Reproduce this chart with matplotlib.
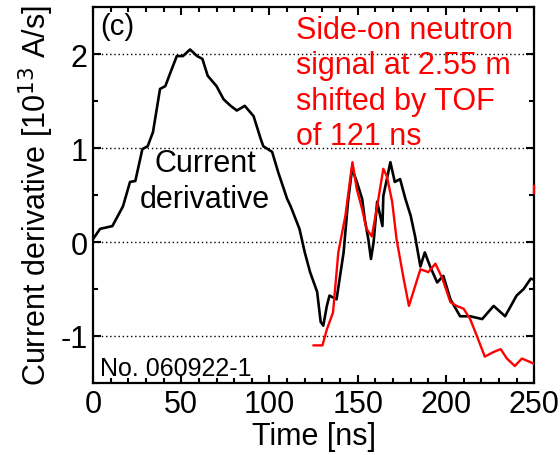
import matplotlib.pyplot as plt
from matplotlib.ticker import MultipleLocator

plt.rcParams['font.family'] = ['Liberation Sans', 'DejaVu Sans']
plt.rcParams['axes.unicode_minus'] = False

# current derivative trace, time in ns, value in 10^13 A/s
t_cur = [0, 4, 11, 17, 21, 24, 28, 31, 34, 38, 41, 44, 47.5, 51, 55, 59, 62, 65,
         70, 74, 78, 81.5, 86, 91, 95, 96.5, 101.5, 105, 110, 112, 117, 120, 123,
         127, 129, 130.5, 132.5, 134, 138, 142, 144.5, 146.8, 149.5, 152.5, 154,
         156, 157.5, 159, 161, 164, 164.5, 168.5, 171, 174, 177, 180, 182.5,
         185.5, 188, 191, 195, 198.5, 202.5, 208, 213.7, 220.5, 227, 233.5, 240,
         244, 248, 250]
v_cur = [0.03, 0.14, 0.17, 0.38, 0.64, 0.65, 0.99, 1.02, 1.17, 1.63, 1.66, 1.81,
         1.98, 1.98, 2.05, 1.98, 1.95, 1.77, 1.66, 1.52, 1.45, 1.40, 1.45, 1.34,
         1.10, 1.02, 0.96, 0.74, 0.46, 0.38, 0.14, -0.11, -0.32, -0.53, -0.85,
         -0.89, -0.68, -0.57, -0.61, -0.11, 0.43, 0.78, 0.64, 0.46, 0.24, 0.03,
         -0.18, 0.0, 0.43, 0.17, 0.49, 0.85, 0.64, 0.67, 0.46, 0.28, 0.06, -0.26,
         -0.11, -0.26, -0.43, -0.36, -0.61, -0.79, -0.79, -0.82, -0.68, -0.79,
         -0.57, -0.50, -0.39, -0.40]

# side-on neutron signal (shifted by TOF), same scale
t_neu = [125, 130, 132.5, 136, 139, 143, 147, 149.5, 152.5, 155, 158, 161, 164.5,
         166.5, 169.5, 172, 176, 179, 182.5, 185.5, 190, 194, 198, 202.5, 206,
         210, 213.7, 217.5, 222, 227, 231, 234.5, 239, 243, 248, 250]
v_neu = [-1.10, -1.10, -0.93, -0.75, -0.11, 0.28, 0.85, 0.56, 0.35, 0.14, 0.06,
         0.38, 0.78, 0.70, 0.43, 0.03, -0.39, -0.68, -0.47, -0.29, -0.32, -0.23,
         -0.39, -0.64, -0.68, -0.71, -0.82, -1.00, -1.22, -1.17, -1.14, -1.24,
         -1.32, -1.24, -1.28, -1.30]

fig = plt.figure(figsize=(5.6, 4.56), dpi=100)
ax = fig.add_axes([0.166, 0.158, 0.788, 0.824])

for g in [-1, 0, 1, 2]:
    ax.axhline(g, color='black', lw=1.0, ls=(0, (1, 2)), zorder=1)

ax.plot(t_cur, v_cur, color='black', lw=1.9, zorder=3)
ax.plot(t_neu, v_neu, color='red', lw=1.7, zorder=4)
# little red stub on the right edge
ax.plot([250, 250], [0.52, 0.6], color='red', lw=1.7, clip_on=False, zorder=5)

ax.set_xlim(0, 250)
ax.set_ylim(-1.5, 2.5)
ax.xaxis.set_major_locator(MultipleLocator(50))
ax.xaxis.set_minor_locator(MultipleLocator(10))
ax.yaxis.set_major_locator(MultipleLocator(1))
ax.yaxis.set_minor_locator(MultipleLocator(0.5))
ax.tick_params(which='both', direction='in', top=True, right=True, width=1.5)
ax.tick_params(which='major', length=6, labelsize=22, pad=4)
ax.tick_params(which='minor', length=3.5)
for s in ax.spines.values():
    s.set_linewidth(1.6)

ax.set_xlabel('Time [ns]', fontsize=22, labelpad=2)
ax.set_ylabel('Current derivative [10$^{13}$ A/s]', fontsize=22, labelpad=3)

ax.text(4, 2.45, '(c)', fontsize=21, ha='left', va='top')
ax.text(63.5, 0.65, 'Current\nderivative', fontsize=22, ha='center', va='center',
        linespacing=1.22)
ax.text(115, 2.42, 'Side-on neutron\nsignal at 2.55 m\nshifted by TOF\nof 121 ns',
        fontsize=22, color='red', ha='left', va='top', linespacing=1.24)
ax.text(4, -1.47, 'No. 060922-1', fontsize=18, ha='left', va='bottom')

fig.savefig('out.png', dpi=100)
